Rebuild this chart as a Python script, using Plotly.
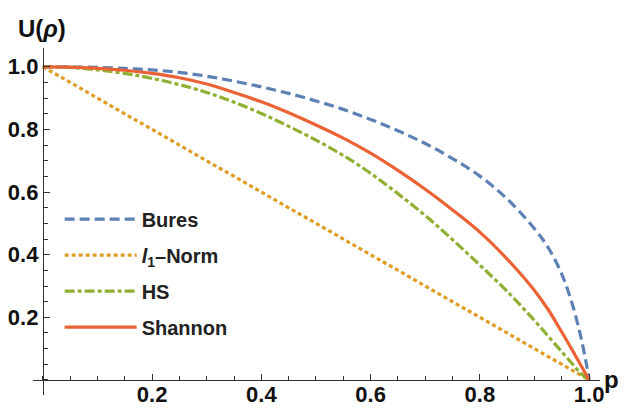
import plotly.graph_objects as go

# Data
p_vals = [0, 0.05, 0.1, 0.15, 0.2, 0.25, 0.3, 0.35, 0.4, 0.45, 0.5, 0.55, 0.6, 0.65,
          0.7, 0.75, 0.8, 0.85, 0.9, 0.925, 0.95, 0.97, 0.985, 0.995, 1.0]
bures = [1.0, 0.9995, 0.998, 0.995, 0.99, 0.982, 0.97, 0.954, 0.936, 0.915, 0.891, 0.864, 0.832, 0.796,
         0.755, 0.707, 0.651, 0.578, 0.483, 0.423, 0.338, 0.238, 0.137, 0.052, 0.0]
hs = [1.0, 0.998, 0.99, 0.979, 0.963, 0.943, 0.918, 0.887, 0.851, 0.81, 0.766, 0.717, 0.66, 0.595,
      0.525, 0.448, 0.367, 0.283, 0.19, 0.14, 0.09, 0.05, 0.021, 0.007, 0.0]
shannon = [1.0, 0.999, 0.995, 0.989, 0.979, 0.965, 0.945, 0.918, 0.888, 0.853, 0.814, 0.772, 0.724, 0.669,
           0.609, 0.543, 0.472, 0.386, 0.286, 0.225, 0.153, 0.093, 0.047, 0.016, 0.0]
l1_p = [0.0, 1.0]
l1 = [1.0, 0.0]

x_ticks = [0.2, 0.4, 0.6, 0.8, 1.0]
y_ticks = [0.2, 0.4, 0.6, 0.8, 1.0]
tick_text = ["0.2", "0.4", "0.6", "0.8", "1.0"]
minor_ticks = [round(i * 0.05, 2) for i in range(0, 21)]

XMIN, XMAX = -0.018, 1.02
YMIN, YMAX = -0.048, 1.06

FONT = "Liberation Sans"

fig = go.Figure()
fig.add_trace(go.Scatter(x=p_vals, y=bures, mode="lines", name="Bures",
                         line=dict(color="#5E81B5", width=3.2, dash="10px,5px", shape="spline", smoothing=1),
                         legendgroup="a"))
fig.add_trace(go.Scatter(x=l1_p, y=l1, mode="lines", name="<i>l</i><sub>1</sub>\u2013Norm",
                         line=dict(color="#E19C24", width=3.2, dash="4px,3px"),
                         legendgroup="b"))
fig.add_trace(go.Scatter(x=p_vals, y=hs, mode="lines", name="HS",
                         line=dict(color="#8FB032", width=3.2, dash="10px,3px,4px,3px", shape="spline", smoothing=1),
                         legendgroup="c"))
fig.add_trace(go.Scatter(x=p_vals, y=shannon, mode="lines", name="Shannon",
                         line=dict(color="#EB6235", width=3.2, shape="spline", smoothing=1),
                         legendgroup="d"))

ypos = (0 - YMIN) / (YMAX - YMIN)
xpos = (0 - XMIN) / (XMAX - XMIN)

fig.update_layout(
    width=628, height=409,
    margin=dict(l=33, r=28, t=48, b=14),
    plot_bgcolor="white", paper_bgcolor="white",
    showlegend=True,
    legend=dict(x=0.047, y=0.563, xanchor="left", yanchor="top",
                bgcolor="rgba(0,0,0,0)", itemwidth=72, tracegroupgap=7,
                font=dict(family=FONT, size=20, color="#222", weight="bold")),
    xaxis=dict(range=[XMIN, XMAX], anchor="free", position=ypos,
               showline=True, linecolor="#333", linewidth=1,
               showgrid=False, zeroline=False,
               tickmode="array", tickvals=x_ticks, ticktext=tick_text,
               ticks="inside", ticklen=6, tickcolor="#333",
               ticklabelstandoff=-5,
               minor=dict(tickmode="array", tickvals=minor_ticks, ticks="inside", ticklen=4, tickcolor="#333"),
               tickfont=dict(family=FONT, size=22, color="#111", weight="bold"),
               automargin=False),
    yaxis=dict(range=[YMIN, YMAX], anchor="free", position=xpos,
               showline=True, linecolor="#333", linewidth=1,
               showgrid=False, zeroline=False,
               tickmode="array", tickvals=y_ticks, ticktext=tick_text,
               ticks="inside", ticklen=6, tickcolor="#333",
               minor=dict(tickmode="array", tickvals=minor_ticks, ticks="inside", ticklen=4, tickcolor="#333"),
               tickfont=dict(family=FONT, size=22, color="#111", weight="bold"),
               automargin=False),
    annotations=[
        dict(text="<b>U(<i>\u03c1</i>)</b>", xref="paper", yref="paper", x=-0.03, y=1.0, yshift=20,
             xanchor="left", yanchor="middle", showarrow=False,
             font=dict(family=FONT, size=24, color="#111")),
        dict(text="<b>p</b>", xref="paper", yref="paper", x=1.0, y=ypos, xshift=2,
             xanchor="left", yanchor="middle", showarrow=False,
             font=dict(family=FONT, size=24, color="#111")),
    ],
)

fig.write_html("out.html", config={"displayModeBar": False},
               post_script="document.body.style.margin='0';")
